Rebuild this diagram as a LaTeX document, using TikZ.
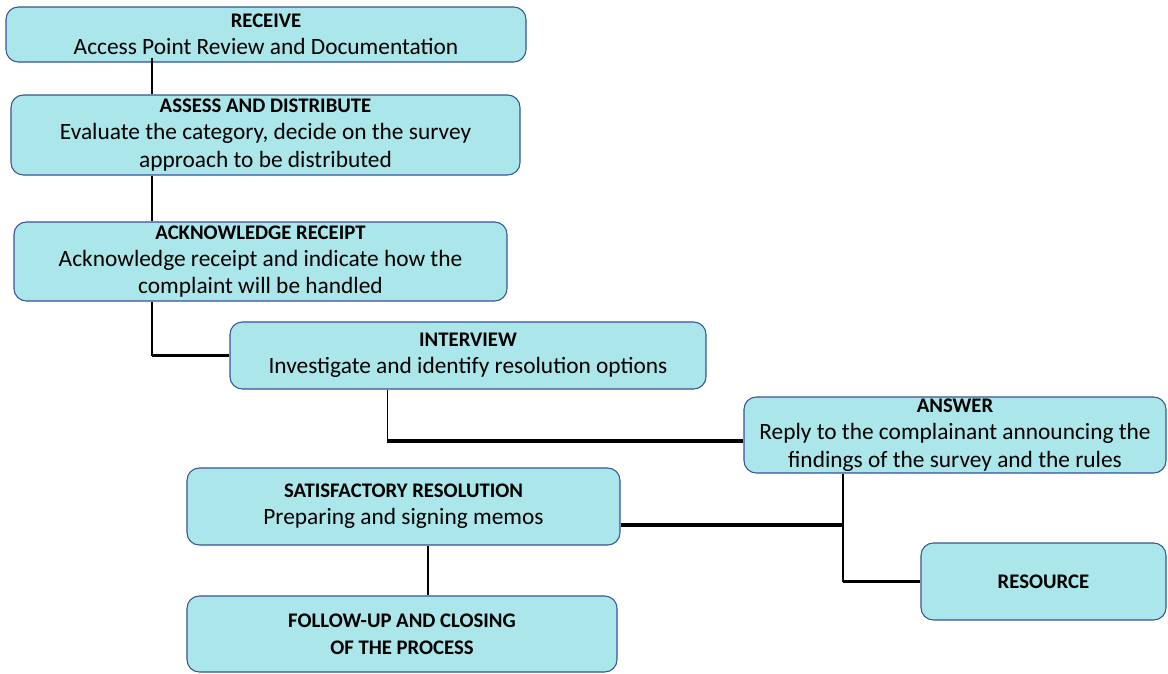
\documentclass[tikz,border=0pt]{standalone}
\usepackage{fontspec}
\setmainfont{Carlito}
\usepackage{xcolor}
\usetikzlibrary{calc}
\definecolor{boxfill}{RGB}{170,230,234}
\definecolor{boxedge}{RGB}{52,84,150}
\newcommand{\boxtitle}[1]{{\fontsize{11.8}{15.5}\selectfont\bfseries #1}}

\begin{document}
\begin{tikzpicture}[x=0.02cm, y=-0.02cm,
    stepbox/.style 2 args={draw=boxedge, fill=boxfill, rounded corners=7pt,
      align=center, inner sep=0pt, line width=0.6pt,
      minimum width=#1*0.02cm, minimum height=#2*0.02cm,
      font=\fontsize{13.3}{15.5}\selectfont},
    thinlink/.style={line width=0.9pt},
    thicklink/.style={line width=2pt}]
  \useasboundingbox (0,0) rectangle (1168,673);

  % Steps
  \node[stepbox={520}{55}] (receive) at (266,34.5)
    {\boxtitle{RECEIVE}\\Access Point Review and Documentation};
  \node[stepbox={509}{80}] (assess) at (265.5,135)
    {\boxtitle{ASSESS AND DISTRIBUTE}\\Evaluate the category, decide on the survey\\approach to be distributed};
  \node[stepbox={493}{79}] (ack) at (260.5,261.5)
    {\boxtitle{ACKNOWLEDGE RECEIPT}\\Acknowledge receipt and indicate how the\\complaint will be handled};
  \node[stepbox={476}{67}] (interview) at (468,355.5)
    {\boxtitle{INTERVIEW}\\Investigate and identify resolution options};
  \node[stepbox={422}{76}] (answer) at (955,435)
    {\boxtitle{ANSWER}\\Reply to the complainant announcing the\\findings of the survey and the rules};
  \node[stepbox={433}{77}] (satisf) at (403.5,506.5)
    {\boxtitle{SATISFACTORY RESOLUTION}\\Preparing and signing memos};
  \node[stepbox={430}{76}] (follow) at (402,634)
    {\boxtitle{FOLLOW-UP AND CLOSING}\\\boxtitle{OF THE PROCESS}};
  \node[stepbox={245}{77}] (resource) at (1043.5,581.5)
    {\boxtitle{RESOURCE}};

  % Link positions
  \coordinate (spine) at (152,0);
  \coordinate (bendA) at (ack.south -| spine);
  \coordinate (cornerA) at (interview.west -| spine);
  \coordinate (cornerB) at ($(answer.west)+(-356,6)$);
  \coordinate (junction) at (843,525);
  \coordinate (cornerC) at (resource.west -| junction);
  \coordinate (stem) at (428,0);

  % Links
  \draw[thinlink] ($(receive.south -| spine)+(0,-5)$) -- (assess.north -| spine);
  \draw[thinlink] (assess.south -| spine) -- (ack.north -| spine);
  \draw[thinlink] (bendA) -- (cornerA);
  \draw[thicklink] (cornerA) -- (interview.west);
  \draw[thinlink] (interview.south -| cornerB) -- (cornerB);
  \draw[thicklink] (cornerB) -- (cornerB -| answer.west);
  \draw[thinlink] (answer.south -| junction) -- (cornerC);
  \draw[thicklink] (cornerC) -- (resource.west);
  \draw[thicklink] (satisf.east |- junction) -- (junction);
  \draw[thinlink] (satisf.south -| stem) -- (follow.north -| stem);
\end{tikzpicture}
\end{document}
